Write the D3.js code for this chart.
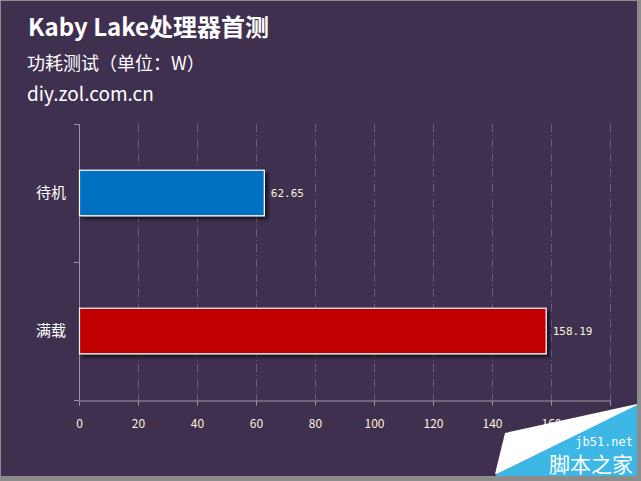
<!DOCTYPE html>
<html><head><meta charset="utf-8">
<script src="https://cdn.jsdelivr.net/npm/d3@7"></script>
<style>html,body{margin:0;padding:0;background:#40304f;}svg{display:block}</style>
</head><body>
<script>
const categories = ["待机", "满载"];
const values = [62.65, 158.19];
const barColors = ["#0070c0", "#c00000"];
const xTicks = [0, 20, 40, 60, 80, 100, 120, 140, 160, 180];
const title = "Kaby Lake处理器首测";
const subtitle = "功耗测试（单位：W）";
const source = "diy.zol.com.cn";

(function () {
const W = 641, H = 481;
const svg = d3.select("body").append("svg").attr("width", W).attr("height", H);
svg.append("rect").attr("x", 0).attr("y", 0).attr("width", W).attr("height", H).attr("fill", "#8c8c8c");
svg.append("rect").attr("x", 1).attr("y", 1).attr("width", 636).attr("height", 475).attr("fill", "#40304f");

const defs = svg.append("defs");
const f = defs.append("filter").attr("id", "sh").attr("x", "-10%").attr("y", "-20%").attr("width", "130%").attr("height", "160%");
f.append("feDropShadow").attr("dx", 3).attr("dy", 3).attr("stdDeviation", 1.5).attr("flood-color", "#000").attr("flood-opacity", 0.6);

const font = "'Microsoft YaHei','Noto Sans CJK SC','Noto Sans',sans-serif";
svg.append("text").attr("x", 28).attr("y", 36).text(title)
  .attr("fill", "#fff").attr("font-family", font).attr("font-weight", "bold").attr("font-size", 24);
// subtitle: separate tspans keep full-width punctuation at full width
const sub = svg.append("text").attr("x", 27).attr("y", 70)
  .attr("fill", "#fff").attr("font-family", font).attr("font-size", 18);
sub.selectAll("tspan").data(Array.from(subtitle)).join("tspan")
  .attr("dx", d => "（：）".includes(d) ? 0.01 : 0)
  .text(d => d);
svg.append("text").attr("x", 27).attr("y", 101).text(source)
  .attr("fill", "#fff").attr("font-family", font).attr("font-size", 19);

const pl = 79, pr = 610, pt = 124, pb = 400;
const x = d3.scaleLinear().domain([0, 180]).range([pl, pr]);
const y = d3.scaleBand().domain(categories).range([pt, pb]).paddingInner(0.67).paddingOuter(0.335);

// gridlines
svg.append("g").selectAll("line").data(xTicks.slice(1)).join("line")
  .attr("x1", d => Math.round(x(d)) + 0.5).attr("x2", d => Math.round(x(d)) + 0.5)
  .attr("y1", pt).attr("y2", pb)
  .attr("stroke", "#6c5a8c").attr("stroke-width", 1).attr("stroke-dasharray", "8,3,1,3");

// x axis
const xa = svg.append("g").attr("transform", `translate(0,${pb + 0.5})`)
  .call(d3.axisBottom(x).tickValues(xTicks).tickSize(5).tickFormat(d => d === 180 ? "" : d));
xa.select(".domain").attr("stroke", "#9a94a4");
xa.selectAll(".tick line").attr("stroke", "#9a94a4");
xa.selectAll(".tick text").attr("fill", "#fbf3dc").attr("font-family", font).attr("font-size", 12).attr("dy", "1.6em");

// y axis
svg.append("line").attr("x1", pl + 0.5).attr("x2", pl + 0.5).attr("y1", pt).attr("y2", pb)
  .attr("stroke", "#9a94a4");
const bounds = [pt, (pt + pb) / 2, pb];
svg.append("g").selectAll("line").data(bounds).join("line")
  .attr("x1", pl - 5).attr("x2", pl).attr("y1", d => Math.round(d) + 0.5).attr("y2", d => Math.round(d) + 0.5)
  .attr("stroke", "#9a94a4");
svg.append("g").selectAll("text").data(categories).join("text")
  .attr("x", 66).attr("y", d => y(d) + y.bandwidth() / 2).attr("dy", "0.35em")
  .attr("text-anchor", "end").attr("fill", "#fff").attr("font-family", font).attr("font-size", 15)
  .text(d => d);

// bars
svg.append("g").selectAll("rect").data(values).join("rect")
  .attr("x", x(0) + 0.5).attr("y", (d, i) => y(categories[i]))
  .attr("width", d => x(d) - x(0)).attr("height", y.bandwidth())
  .attr("fill", (d, i) => barColors[i]).attr("stroke", "#fff").attr("stroke-width", 1.2)
  .attr("filter", "url(#sh)");

svg.append("g").selectAll("text").data(values).join("text")
  .attr("x", d => x(d) + 7).attr("y", (d, i) => y(categories[i]) + y.bandwidth() / 2).attr("dy", "0.35em")
  .attr("fill", "#fbf3dc").attr("font-family", "'DejaVu Sans Mono',monospace").attr("font-size", 11)
  .text(d => d.toFixed(2));

// watermark
svg.append("polygon").attr("points", "505,433 637,404 637,406 497,474 495,474").attr("fill", "#ffffff");
svg.append("polygon").attr("points", "637,405 637,476 495,476 497,474").attr("fill", "#3db8e6");
svg.append("text").attr("x", 633).attr("y", 446).attr("text-anchor", "end").text("jb51.net")
  .attr("fill", "#fff").attr("font-family", "'DejaVu Sans Mono',monospace").attr("font-size", 12);
svg.append("text").attr("x", 633).attr("y", 472).attr("text-anchor", "end").text("脚本之家")
  .attr("fill", "#fff").attr("font-family", "'Noto Sans CJK SC',sans-serif").attr("font-size", 21);
})();
</script>
</body></html>
